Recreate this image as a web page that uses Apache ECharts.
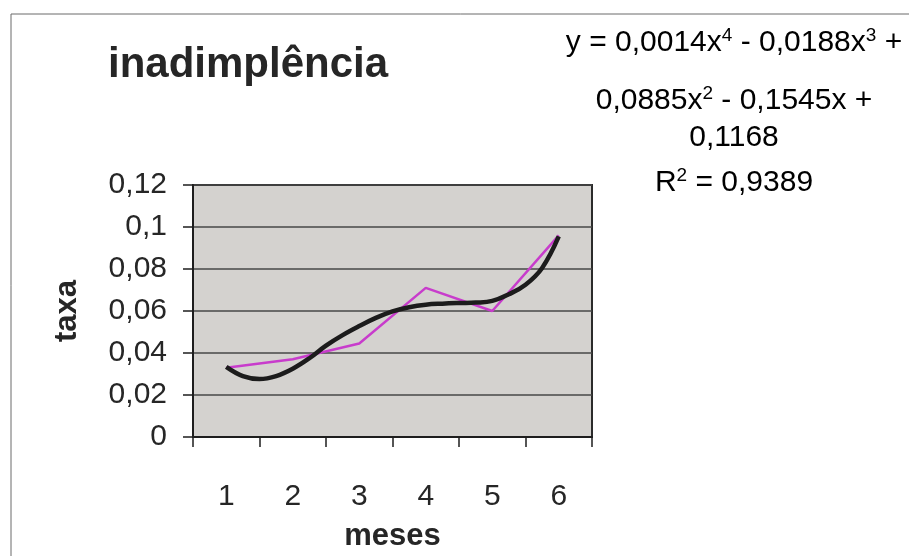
<!DOCTYPE html>
<html>
<head>
<meta charset="utf-8">
<title>inadimplência</title>
<script src="https://cdn.jsdelivr.net/npm/echarts@6/dist/echarts.min.js"></script>
<style>
  html, body { margin: 0; padding: 0; background: #ffffff; }
  #chart { width: 909px; height: 556px; }
</style>
</head>
<body>
<div id="chart"></div>
<script>
// Monthly default rate (taxa de inadimplência)
const months = ['1', '2', '3', '4', '5', '6'];
const monthX = [1, 2, 3, 4, 5, 6];
const taxa = [0.033, 0.037, 0.0445, 0.071, 0.060, 0.096];

// 4th-order polynomial trendline, sampled along the month axis
const trendX = [1, 1.25, 1.5, 1.75, 2, 2.25, 2.5, 2.75, 3, 3.25, 3.5, 3.75, 4, 4.25, 4.5, 4.75, 5, 5.25, 5.5, 5.75, 6];
const trendY = [0.0334, 0.0290, 0.0276, 0.0290, 0.0325, 0.0375, 0.0435, 0.0485, 0.0528, 0.0567, 0.0598, 0.0618, 0.0630, 0.0635, 0.0638, 0.0640, 0.0648, 0.0680, 0.0725, 0.0805, 0.0955];

// Y axis ticks
const yTicks = { min: 0, max: 0.12, step: 0.02 };

// Trendline equation text
const eqLines = [
  '{n|y = 0,0014x}{s|4}{n| - 0,0188x}{s|3}{n| +}',
  '{n|0,0885x}{s|2}{n| - 0,1545x +}',
  '{n|0,1168}',
  '{n|R}{s|2}{n| = 0,9389}'
];

const FONT = "'Liberation Sans', Arial, sans-serif";
const TXT = '#262626';

const chart = echarts.init(document.getElementById('chart'), null, { renderer: 'canvas' });

const eqRich = {
  n: { fontSize: 30, fontFamily: FONT, color: TXT, lineHeight: 34 },
  s: { fontSize: 19, fontFamily: FONT, color: TXT, lineHeight: 16, verticalAlign: 'top' }
};
const eqTops = [26, 84, 121, 166];

const option = {
  backgroundColor: '#ffffff',
  animation: false,
  grid: {
    left: 193, top: 185, width: 399, height: 252,
    show: true,
    backgroundColor: '#d4d2cf',
    borderColor: '#2b2b2b',
    borderWidth: 2
  },
  xAxis: [
    {
      type: 'category',
      data: months,
      boundaryGap: true,
      name: 'meses',
      nameLocation: 'middle',
      nameGap: 84,
      nameTextStyle: { fontSize: 31, fontWeight: 'bold', fontFamily: FONT, color: TXT },
      axisLine: { show: true, lineStyle: { color: '#1e1e1e', width: 2 } },
      axisTick: { show: true, length: 10, lineStyle: { color: '#1e1e1e', width: 1.5 } },
      axisLabel: { fontSize: 30, fontFamily: FONT, color: TXT, margin: 45 },
      splitLine: { show: false }
    },
    {
      type: 'value',
      min: 0.5, max: 6.5,
      show: false,
      splitLine: { show: false }
    }
  ],
  yAxis: {
    type: 'value',
    min: yTicks.min, max: yTicks.max, interval: yTicks.step,
    name: 'taxa',
    nameLocation: 'middle',
    nameGap: 110,
    nameRotate: 90,
    nameTextStyle: { fontSize: 31, fontWeight: 'bold', fontFamily: FONT, color: TXT },
    axisLine: { show: true, lineStyle: { color: '#1e1e1e', width: 2 } },
    axisTick: { show: true, length: 10, lineStyle: { color: '#1e1e1e', width: 1.5 } },
    axisLabel: {
      fontSize: 30, fontFamily: FONT, color: TXT, margin: 26,
      formatter: v => String(+v.toFixed(2)).replace('.', ',')
    },
    splitLine: { show: true, lineStyle: { color: '#474747', width: 1.5 } }
  },
  series: [
    {
      name: 'taxa',
      type: 'line',
      xAxisIndex: 1,
      data: monthX.map((m, i) => [m, taxa[i]]),
      symbol: 'none',
      lineStyle: { color: '#c83ccc', width: 2.5 },
      z: 3
    },
    {
      name: 'tendência',
      type: 'line',
      xAxisIndex: 1,
      data: trendX.map((m, i) => [m, trendY[i]]),
      symbol: 'none',
      smooth: 0.4,
      lineStyle: { color: '#1c1c1c', width: 4.5 },
      z: 4
    }
  ],
  graphic: [
    {
      type: 'rect',
      shape: { x: 11, y: 14, width: 960, height: 620 },
      style: { fill: 'none', stroke: '#6a6a6a', lineWidth: 1 },
      silent: true
    },
    {
      type: 'text',
      left: 108, top: 44,
      style: { text: 'inadimplência', font: "bold 42px 'Liberation Sans', Arial, sans-serif", fill: TXT }
    }
  ].concat(eqLines.map((t, i) => ({
    type: 'text',
    x: 734, y: eqTops[i],
    style: { text: t, rich: eqRich, align: 'center', verticalAlign: 'top' }
  })))
};

chart.setOption(option);
</script>
</body>
</html>
